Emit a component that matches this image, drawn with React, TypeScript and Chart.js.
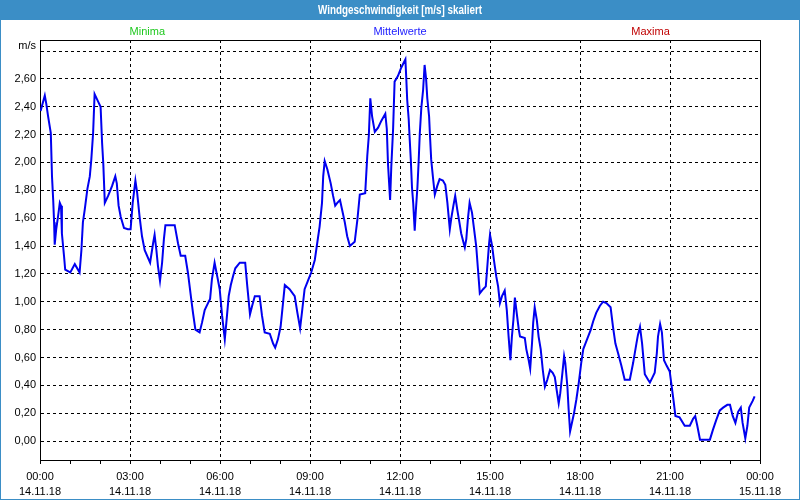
import React, { useEffect, useRef } from 'react';
import { Chart, registerables } from 'chart.js';

Chart.register(...registerables);

const TITLE = 'Windgeschwindigkeit [m/s] skaliert';
const LEGEND_LABELS = ['Minima', 'Mittelwerte', 'Maxima'];
const LEGEND_COLORS = ['#1ec81e', '#2020ff', '#c00000'];
const UNIT_LABEL = 'm/s';
const Y_TICKS = [0, 0.2, 0.4, 0.6, 0.8, 1.0, 1.2, 1.4, 1.6, 1.8, 2.0, 2.2, 2.4, 2.6, 2.8];
const X_TICK_HOURS = [0, 1, 2, 3, 4, 5, 6, 7, 8, 9, 10, 11, 12, 13, 14, 15, 16, 17, 18, 19, 20, 21, 22, 23, 24];
const DATES = ['14.11.18', '15.11.18'];

const HOURS = [
  0.02, 0.16, 0.21, 0.27, 0.36, 0.40, 0.44, 0.47, 0.49, 0.54, 0.60, 0.66, 0.70, 0.73, 0.80, 0.84,
  1.01, 1.16, 1.32, 1.38, 1.43, 1.49, 1.58, 1.66, 1.71, 1.77, 1.82, 1.93,
  2.02, 2.07, 2.11, 2.16, 2.27, 2.40, 2.51, 2.56, 2.62, 2.69, 2.80, 2.93,
  3.02, 3.09, 3.18, 3.24, 3.32, 3.40, 3.49, 3.67, 3.77, 3.82, 3.88, 3.93,
  4.00, 4.07, 4.13, 4.18, 4.32, 4.49, 4.60, 4.69, 4.84, 4.93,
  5.04, 5.10, 5.18, 5.32, 5.40, 5.49, 5.60, 5.67, 5.73, 5.82, 5.91, 5.99,
  6.07, 6.16, 6.22, 6.29, 6.36, 6.43, 6.51, 6.66, 6.84, 6.91,
  7.00, 7.07, 7.16, 7.32, 7.40, 7.49, 7.66, 7.77, 7.84, 7.93,
  8.02, 8.10, 8.16, 8.32, 8.49, 8.58, 8.67, 8.73, 8.82, 8.93,
  9.04, 9.16, 9.24, 9.32, 9.40, 9.44, 9.49, 9.58, 9.69, 9.77, 9.84, 9.91,
  10.00, 10.07, 10.16, 10.24, 10.33, 10.49, 10.58, 10.66, 10.84, 10.91, 10.96,
  11.01, 11.07, 11.16, 11.27, 11.38, 11.51, 11.56, 11.60, 11.67, 11.71, 11.77, 11.82, 11.93,
  12.04, 12.18, 12.21, 12.24, 12.29, 12.32, 12.36, 12.40, 12.44, 12.49, 12.53, 12.58, 12.62, 12.66,
  12.71, 12.77, 12.82, 12.87, 12.91, 12.97,
  13.00, 13.04, 13.10, 13.16, 13.24, 13.32, 13.43, 13.51, 13.58, 13.66, 13.71, 13.78, 13.84, 13.91, 13.98,
  14.04, 14.11, 14.16, 14.21, 14.27, 14.32, 14.40, 14.47, 14.54, 14.60, 14.66, 14.77, 14.86, 14.92, 14.97,
  15.00, 15.07, 15.13, 15.21, 15.27, 15.33, 15.40, 15.49, 15.56, 15.62, 15.68, 15.73, 15.78, 15.83, 15.89, 15.96,
  16.00, 16.16, 16.21, 16.29, 16.34, 16.40, 16.44, 16.49, 16.56, 16.62, 16.69, 16.76, 16.83, 16.91,
  17.00, 17.09, 17.16, 17.22, 17.29, 17.34, 17.40, 17.47, 17.51, 17.58, 17.62, 17.67, 17.73, 17.80, 17.88, 17.96,
  18.04, 18.11, 18.18, 18.27, 18.36, 18.44, 18.54, 18.66, 18.77, 18.88,
  19.02, 19.10, 19.18, 19.27, 19.38, 19.49, 19.66, 19.77, 19.88, 19.93,
  20.00, 20.07, 20.16, 20.27, 20.33, 20.40, 20.49, 20.56, 20.60, 20.67, 20.73, 20.80, 20.89, 20.99,
  21.07, 21.13, 21.18, 21.32, 21.49, 21.66, 21.77, 21.84, 21.91,
  22.00, 22.16, 22.33, 22.43, 22.54, 22.66, 22.77, 22.91,
  23.00, 23.09, 23.18, 23.27, 23.36, 23.42, 23.51, 23.58, 23.64, 23.76, 23.82,
];

const SPEED = [
  2.37, 2.48, 2.42, 2.33, 2.21, 1.90, 1.73, 1.57, 1.41, 1.52, 1.61, 1.71, 1.69, 1.49, 1.33, 1.23,
  1.21, 1.27, 1.21, 1.37, 1.57, 1.66, 1.81, 1.90, 2.02, 2.21, 2.49, 2.44,
  2.40, 2.14, 1.99, 1.71, 1.76, 1.83, 1.90, 1.85, 1.69, 1.61, 1.53, 1.52,
  1.52, 1.71, 1.87, 1.78, 1.61, 1.47, 1.37, 1.28, 1.42, 1.48, 1.37, 1.26,
  1.15, 1.28, 1.45, 1.55, 1.55, 1.55, 1.42, 1.33, 1.33, 1.21,
  1.02, 0.92, 0.80, 0.78, 0.85, 0.94, 0.99, 1.02, 1.16, 1.28, 1.18, 1.09,
  0.90, 0.73, 0.87, 1.04, 1.12, 1.18, 1.24, 1.28, 1.28, 1.11,
  0.91, 0.97, 1.04, 1.04, 0.90, 0.78, 0.77, 0.70, 0.67, 0.73,
  0.82, 0.99, 1.12, 1.09, 1.04, 0.92, 0.81, 0.92, 1.09, 1.15,
  1.21, 1.30, 1.42, 1.54, 1.71, 1.90, 2.01, 1.95, 1.85, 1.76, 1.69, 1.71,
  1.73, 1.66, 1.57, 1.47, 1.40, 1.43, 1.59, 1.77, 1.78, 2.05, 2.19,
  2.46, 2.33, 2.22, 2.25, 2.30, 2.35, 2.24, 1.99, 1.73, 1.97, 2.24, 2.58, 2.62,
  2.68, 2.74, 2.60, 2.45, 2.31, 2.18, 2.02, 1.82, 1.71, 1.51, 1.66, 1.82, 2.00, 2.21,
  2.39, 2.52, 2.70, 2.60, 2.46, 2.33,
  2.19, 2.02, 1.89, 1.77, 1.83, 1.88, 1.87, 1.84, 1.71, 1.52, 1.60, 1.69, 1.76, 1.66, 1.57,
  1.49, 1.43, 1.39, 1.45, 1.61, 1.71, 1.64, 1.52, 1.40, 1.23, 1.06, 1.09, 1.11, 1.28, 1.42,
  1.48, 1.40, 1.30, 1.18, 1.11, 0.99, 1.04, 1.08, 0.94, 0.75, 0.58, 0.75, 0.87, 1.03, 0.92, 0.80,
  0.75, 0.74, 0.66, 0.58, 0.52, 0.70, 0.85, 0.96, 0.87, 0.75, 0.66, 0.51, 0.39, 0.44,
  0.51, 0.49, 0.46, 0.37, 0.27, 0.34, 0.46, 0.61, 0.56, 0.39, 0.23, 0.07, 0.13, 0.20, 0.30, 0.42,
  0.56, 0.66, 0.70, 0.75, 0.80, 0.86, 0.92, 0.97, 1.00, 0.99,
  0.96, 0.82, 0.70, 0.63, 0.54, 0.44, 0.44, 0.56, 0.70, 0.76,
  0.82, 0.70, 0.48, 0.44, 0.42, 0.45, 0.49, 0.63, 0.75, 0.84, 0.78, 0.58, 0.54, 0.50,
  0.37, 0.27, 0.18, 0.17, 0.11, 0.11, 0.16, 0.18, 0.11,
  0.01, 0.01, 0.01, 0.08, 0.15, 0.22, 0.24, 0.26,
  0.26, 0.18, 0.13, 0.21, 0.24, 0.13, 0.02, 0.11, 0.24, 0.29, 0.32,
];

const FONT = '"Liberation Sans", Arial, sans-serif';
const FRAME_BLUE = '#3b8ec6';
const TITLE_WIDTH = 164;

const decorPlugin = {
  id: 'decor',
  beforeDraw(chart: any) {
    const { ctx, width, height } = chart;
    ctx.save();
    ctx.fillStyle = '#ffffff';
    ctx.fillRect(0, 0, width, height);
    ctx.fillStyle = FRAME_BLUE;
    ctx.fillRect(0, 0, width, 20);
    ctx.strokeStyle = FRAME_BLUE;
    ctx.lineWidth = 1;
    ctx.strokeRect(0.5, 0.5, width - 1, height - 1);
    ctx.fillStyle = '#ffffff';
    ctx.font = `bold 12px ${FONT}`;
    ctx.textAlign = 'center';
    ctx.textBaseline = 'middle';
    const tw = ctx.measureText(TITLE).width;
    const sx = Math.min(1, TITLE_WIDTH / tw);
    ctx.save();
    ctx.translate(width / 2, 10.5);
    ctx.scale(sx, 1);
    ctx.fillText(TITLE, 0, 0);
    ctx.restore();
    const area = chart.chartArea;
    const w = area.right - area.left;
    const centers = [area.left + w * 0.149, area.left + w * 0.5, area.left + w * 0.848];
    ctx.font = `11px ${FONT}`;
    LEGEND_LABELS.forEach((t, i) => {
      ctx.fillStyle = LEGEND_COLORS[i];
      ctx.fillText(t, centers[i], 32);
    });
    ctx.fillStyle = '#000000';
    ctx.textAlign = 'right';
    ctx.fillText(UNIT_LABEL, area.left - 4, 46);
    ctx.restore();
  },
  beforeDatasetsDraw(chart: any) {
    const { ctx, chartArea: a } = chart;
    ctx.save();
    ctx.strokeStyle = '#000000';
    ctx.lineWidth = 1;
    ctx.setLineDash([]);
    ctx.strokeRect(a.left + 0.5, a.top + 0.5, a.right - a.left, a.bottom - a.top);
    ctx.restore();
  },
};

export default function App() {
  const ref = useRef<HTMLCanvasElement | null>(null);
  useEffect(() => {
    if (!ref.current) return;
    const data = HOURS.map((h, i) => ({ x: h, y: SPEED[i] }));
    const chart = new Chart(ref.current, {
      type: 'line',
      data: {
        datasets: [
          {
            label: LEGEND_LABELS[1],
            data,
            borderColor: '#0000f0',
            borderWidth: 2,
            pointRadius: 0,
            tension: 0,
            fill: false,
          },
        ],
      },
      options: {
        responsive: false,
        devicePixelRatio: 1,
        animation: false,
        layout: { padding: { top: 40, right: 40, left: 0, bottom: 0 } },
        plugins: { legend: { display: false }, title: { display: false }, tooltip: { enabled: false } },
        scales: {
          x: {
            type: 'linear',
            min: 0,
            max: 24,
            afterFit: (s: any) => { s.height = 40; },
            afterBuildTicks: (s: any) => { s.ticks = X_TICK_HOURS.map((v) => ({ value: v })); },
            border: { display: true, color: '#000', width: 1, dash: [3, 3] },
            grid: {
              color: (c: any) => (c.tick && c.tick.value % 3 === 0 ? '#000' : 'rgba(0,0,0,0)'),
              tickColor: '#000',
              tickLength: 4,
              drawTicks: true,
              lineWidth: 1,
            },
            ticks: {
              autoSkip: false,
              maxRotation: 0,
              minRotation: 0,
              padding: 5,
              color: '#000',
              font: { family: FONT, size: 11, lineHeight: 1.4 },
              callback: (v: any) => {
                const n = Number(v);
                if (n % 3 !== 0) return '';
                const hh = String(n % 24).padStart(2, '0') + ':00';
                return [hh, n < 24 ? DATES[0] : DATES[1]];
              },
            },
          },
          y: {
            type: 'linear',
            min: -0.136,
            max: 2.879,
            afterFit: (s: any) => { s.width = 40; },
            afterBuildTicks: (s: any) => { s.ticks = Y_TICKS.map((v) => ({ value: v })); },
            border: { display: true, color: '#000', width: 1, dash: [3, 3] },
            grid: { color: '#000', drawTicks: false, lineWidth: 1 },
            ticks: {
              padding: 4,
              color: '#000',
              font: { family: FONT, size: 11 },
              callback: (v: any) => {
                const n = Number(v);
                if (Math.abs(n - 2.8) < 1e-6) return '';
                return n.toFixed(2).replace('.', ',');
              },
            },
          },
        },
      },
      plugins: [decorPlugin],
    });
    return () => chart.destroy();
  }, []);
  return (
    <div style={{ position: 'fixed', left: 0, top: 0, width: 800, height: 500 }}>
      <canvas ref={ref} width={800} height={500} style={{ display: 'block', width: 800, height: 500 }} />
    </div>
  );
}
